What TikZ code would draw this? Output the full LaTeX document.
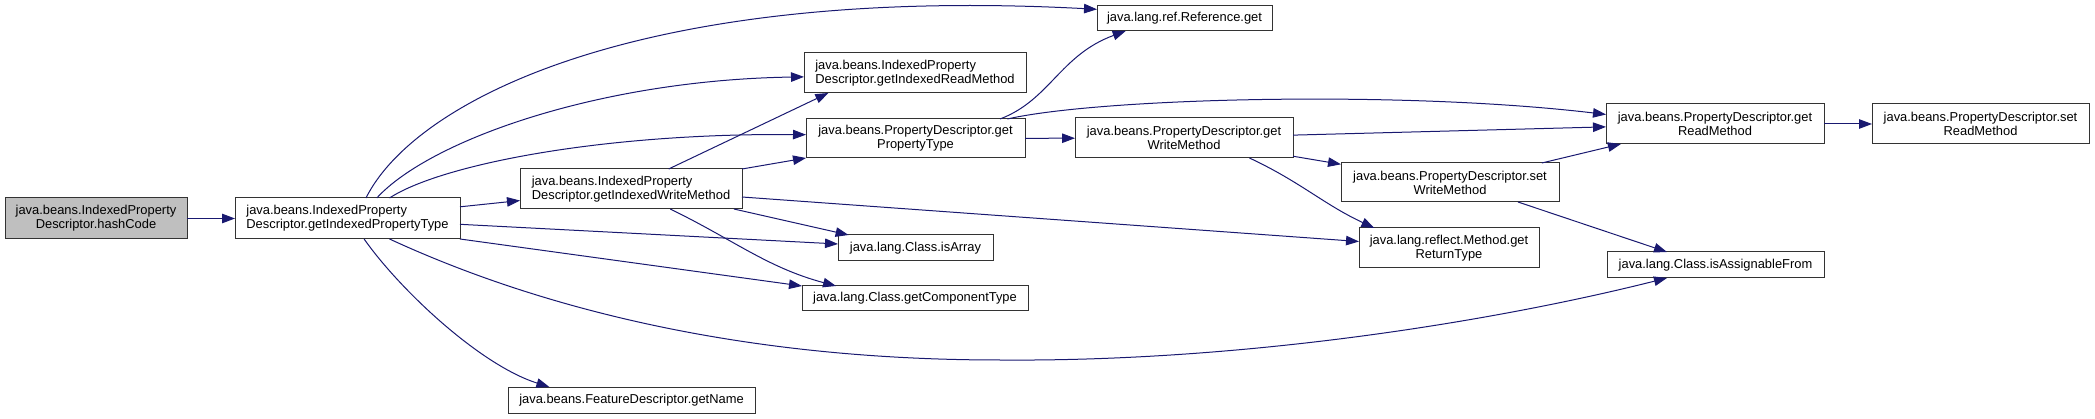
\documentclass[tikz,border=0pt]{standalone}
\usepackage{fontspec}
\setmainfont{Liberation Sans}
\usetikzlibrary{arrows.meta}
\definecolor{edgeblue}{HTML}{191970}

\begin{document}
\begin{tikzpicture}[x=1pt, y=-1pt,
    box/.style={draw=black!80, fill=white, line width=1pt, inner sep=0pt, outer sep=0pt, font=\fontsize{12.9}{14}\selectfont, text=black},
    arr/.style={-{Triangle[length=13pt, width=9.5pt]}, line width=1pt, edgeblue},
]
\useasboundingbox (0,0) rectangle (2095,419);
% Call graph
\node[box, fill=black!25, minimum width=182pt, minimum height=41pt, align=center] (hashc) at (96,218.5) {java.beans.IndexedProperty\\Descriptor.hashCode};
\node[box, minimum width=225pt, minimum height=41pt, align=left] (idxType) at (347.5,218.5) {java.beans.IndexedProperty\\Descriptor.getIndexedPropertyType};
\node[box, minimum width=222pt, minimum height=40pt, align=left] (idxRead) at (915,73) {java.beans.IndexedProperty\\Descriptor.getIndexedReadMethod};
\node[box, minimum width=219pt, minimum height=39pt, align=center] (propType) at (915.5,138.5) {java.beans.PropertyDescriptor.get\\PropertyType};
\node[box, minimum width=222pt, minimum height=40pt, align=left] (idxWrite) at (631,189) {java.beans.IndexedProperty\\Descriptor.getIndexedWriteMethod};
\node[box, minimum width=155pt, minimum height=26pt] (isArr) at (915.5,248) {java.lang.Class.isArray};
\node[box, minimum width=226pt, minimum height=25pt] (compType) at (915,298.5) {java.lang.Class.getComponentType};
\node[box, minimum width=247pt, minimum height=26pt] (getName) at (631.5,400) {java.beans.FeatureDescriptor.getName};
\node[box, minimum width=175pt, minimum height=25pt] (refGet) at (1184.5,18.5) {java.lang.ref.Reference.get};
\node[box, minimum width=218pt, minimum height=40pt, align=center] (writeM) at (1184,138) {java.beans.PropertyDescriptor.get\\WriteMethod};
\node[box, minimum width=218pt, minimum height=39pt, align=center] (setWrite) at (1450,182.5) {java.beans.PropertyDescriptor.set\\WriteMethod};
\node[box, minimum width=180pt, minimum height=40pt, align=center] (retType) at (1449,248) {java.lang.reflect.Method.get\\ReturnType};
\node[box, minimum width=218pt, minimum height=40pt, align=center] (readM) at (1715,124) {java.beans.PropertyDescriptor.get\\ReadMethod};
\node[box, minimum width=217pt, minimum height=40pt, align=center] (setRead) at (1980.5,124) {java.beans.PropertyDescriptor.set\\ReadMethod};
\node[box, minimum width=217pt, minimum height=26pt] (isAssign) at (1715.5,265) {java.lang.Class.isAssignableFrom};

\draw[arr] (hashc) -- (idxType);
\draw[arr] (idxType.48) .. controls (415,100) and (640,-15) .. (refGet.174);
\draw[arr] (idxType.35) .. controls (430,140) and (600,80) .. (idxRead.182);
\draw[arr] (idxType.26) .. controls (440,165) and (600,133) .. (propType.178);
\draw[arr] (idxType) -- (idxWrite);
\draw[arr] (idxType) -- (isArr);
\draw[arr] (idxType.south east) -- (compType.north west);
\draw[arr] (idxType.-26) .. controls (500,290) and (700,360) .. (1000,360) .. controls (1250,362) and (1500,320) .. (isAssign.195);
\draw[arr] (idxType.-51) .. controls (400,290) and (480,365) .. (getName.171);

\draw[arr] (idxWrite.28) -- (idxRead.193);
\draw[arr] (idxWrite.north east) -- (propType.south west);
\draw[arr] (idxWrite.-11) -- (isArr.169);
\draw[arr] (idxWrite.-27) to[out=-26, in=165] (compType.171);
\draw[arr] (idxWrite) -- (retType);

\draw[arr] (propType.13.5) .. controls (1050,100) and (1060,55) .. (refGet.192);
\draw[arr] (propType.12) .. controls (1100,98) and (1400,90) .. (readM.175);
\draw[arr] (propType) -- (writeM);

\draw[arr] (writeM) -- (readM);
\draw[arr] (writeM) -- (setWrite);
\draw[arr] (writeM.-17) to[out=-25, in=155] (retType.165);

\draw[arr] (setWrite.12) -- (readM.192);
\draw[arr] (setWrite.-16) -- (isAssign.165);

\draw[arr] (readM) -- (setRead);
\end{tikzpicture}
\end{document}
